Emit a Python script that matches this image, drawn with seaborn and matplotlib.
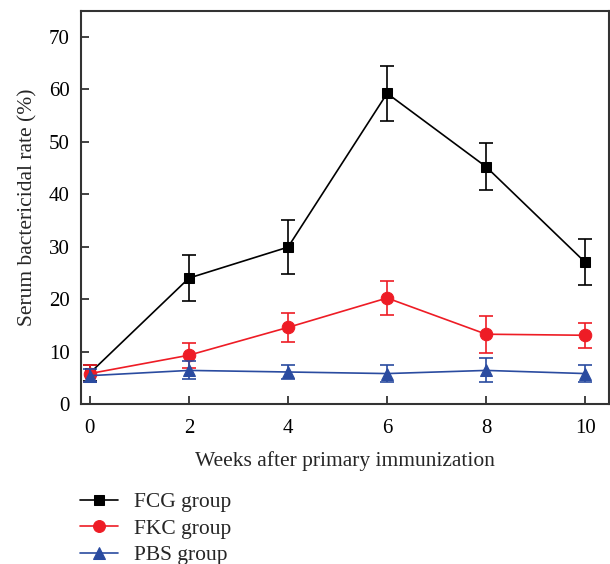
import matplotlib
matplotlib.use("Agg")
import matplotlib.pyplot as plt
import seaborn as sns
import pandas as pd
import numpy as np

weeks = [0, 2, 4, 6, 8, 10]
fcg = [5.9, 24.0, 29.9, 59.2, 45.2, 27.0]
fcg_err = [1.5, 4.4, 5.1, 5.3, 4.5, 4.4]
fkc = [5.8, 9.3, 14.6, 20.2, 13.3, 13.1]
fkc_err = [1.6, 2.4, 2.7, 3.2, 3.5, 2.4]
pbs = [5.4, 6.4, 6.1, 5.8, 6.4, 5.8]
pbs_err = [1.3, 1.7, 1.4, 1.7, 2.3, 1.7]
groups = ["FCG group", "FKC group", "PBS group"]
xticks = [0, 2, 4, 6, 8, 10]
yticks = [0, 10, 20, 30, 40, 50, 60, 70]

sns.set_theme(style="ticks")
plt.rcParams['font.family'] = ['Liberation Serif', 'DejaVu Serif']

fig = plt.figure(figsize=(6.1, 5.64), dpi=100)
ax = fig.add_axes([81/610, 1-404/564, (609-81)/610, (404-11)/564])

colors = ["#000000", "#ee1c25", "#2a4ba0"]
markers = ["s", "o", "^"]
msizes = [7, 9, 9]
series = [fcg, fkc, pbs]
errs = [fcg_err, fkc_err, pbs_err]

for i in range(3):
    df = pd.DataFrame({"week": weeks, "rate": series[i]})
    ax.errorbar(weeks, series[i], yerr=errs[i], fmt="none", ecolor=colors[i],
                elinewidth=1.2, capsize=5, capthick=1.2, zorder=2 + i)
    sns.lineplot(data=df, x="week", y="rate", ax=ax, color=colors[i],
                 marker=markers[i], markersize=msizes[i], markeredgecolor=colors[i],
                 linewidth=1.2, label=groups[i], zorder=3 + i)

ax.set_xlim(-0.18, 10.48)
ax.set_ylim(0, 74.9)
ax.set_xticks(xticks)
ax.set_yticks(yticks)
ax.tick_params(direction="in", length=6, width=1.2, labelsize=15, colors="#222222")
ax.tick_params(axis="x", pad=11)
ax.tick_params(axis="y", pad=8)
for lab in ax.get_xticklabels() + ax.get_yticklabels():
    lab.set_color("black")
for s in ax.spines.values():
    s.set_linewidth(1.5)
    s.set_color("#333333")
ax.set_xlabel("Weeks after primary immunization", fontsize=15.5, labelpad=9)
ax.set_ylabel("Serum bactericidal rate (%)", fontsize=15.5, labelpad=8)

leg = ax.legend(loc="upper left", bbox_to_anchor=(65/610, 1-477/564),
                bbox_transform=fig.transFigure, frameon=False, fontsize=15.5,
                handlelength=1.75, handletextpad=0.75, labelspacing=0.3,
                borderpad=0.2, markerscale=0.95)

fig.savefig("out.png", dpi=100)
